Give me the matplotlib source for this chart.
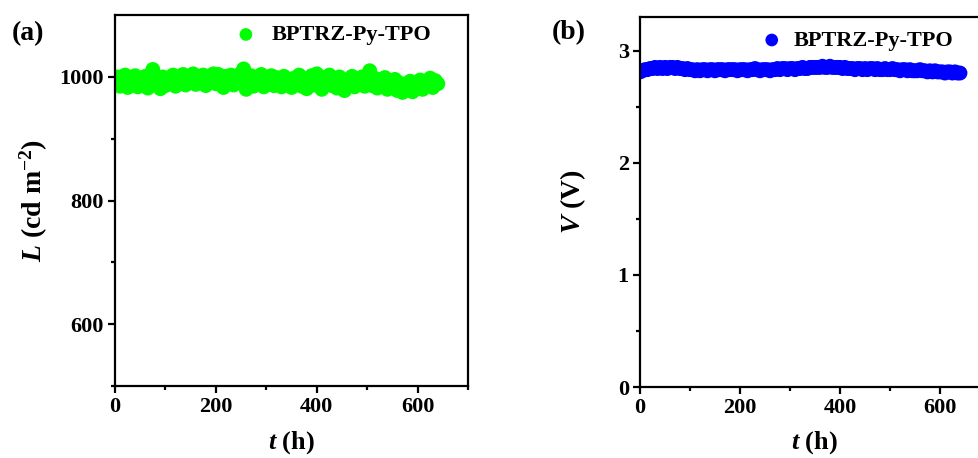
import numpy as np
import matplotlib.pyplot as plt

plt.rcParams['font.family'] = ['Liberation Serif', 'DejaVu Serif']
plt.rcParams['font.weight'] = 'bold'
plt.rcParams['axes.labelweight'] = 'bold'
plt.rcParams['mathtext.fontset'] = 'custom'
plt.rcParams['mathtext.rm'] = 'Liberation Serif:bold'
plt.rcParams['mathtext.it'] = 'Liberation Serif:bold:italic'
plt.rcParams['mathtext.bf'] = 'Liberation Serif:bold'

# data: t sampled every 5 h
t = np.arange(0, 645, 5)
L = [990, 1000, 985, 995, 1003, 983, 997, 988, 1002, 984,
     996, 987, 1001, 982, 1004, 1012, 990, 998, 981, 1000,
     986, 997, 990, 1003, 985, 999, 993, 1004, 987, 998,
     991, 1005, 988, 1000, 994, 1003, 986, 1001, 992, 1005,
     989, 1004, 995, 983, 1001, 990, 1003, 987, 999, 992,
     1006, 1013, 980, 996, 1002, 985, 998, 991, 1004, 984,
     997, 989, 1002, 986, 999, 992, 984, 1001, 988, 996,
     983, 998, 990, 1003, 985, 997, 981, 994, 1002, 987,
     1005, 990, 980, 999, 988, 1003, 986, 996, 982, 1000,
     991, 978, 995, 987, 1001, 984, 997, 989, 1000, 985,
     993, 1010, 986, 998, 982, 995, 988, 999, 980, 992,
     985, 996, 978, 990, 975, 988, 981, 993, 976, 986,
     984, 995, 980, 991, 987, 998, 983, 994, 989]
V = [2.81, 2.82, 2.83, 2.83, 2.84, 2.84, 2.85, 2.84, 2.85, 2.84,
     2.85, 2.84, 2.85, 2.85, 2.84, 2.85, 2.84, 2.84, 2.83, 2.84,
     2.83, 2.83, 2.82, 2.83, 2.82, 2.83, 2.83, 2.82, 2.83, 2.83,
     2.82, 2.83, 2.83, 2.83, 2.82, 2.83, 2.83, 2.83, 2.83, 2.82,
     2.83, 2.83, 2.83, 2.82, 2.83, 2.83, 2.84, 2.83, 2.82, 2.83,
     2.83, 2.83, 2.82, 2.83, 2.83, 2.84, 2.83, 2.84, 2.84, 2.83,
     2.84, 2.84, 2.83, 2.84, 2.84, 2.85, 2.84, 2.84, 2.85, 2.85,
     2.85, 2.85, 2.85, 2.86, 2.85, 2.85, 2.86, 2.85, 2.85, 2.85,
     2.85, 2.84, 2.85, 2.84, 2.84, 2.84, 2.83, 2.84, 2.84, 2.83,
     2.84, 2.83, 2.84, 2.84, 2.83, 2.84, 2.83, 2.83, 2.84, 2.83,
     2.83, 2.84, 2.83, 2.83, 2.82, 2.83, 2.83, 2.82, 2.83, 2.82,
     2.82, 2.82, 2.83, 2.82, 2.82, 2.81, 2.82, 2.81, 2.82, 2.81,
     2.81, 2.81, 2.80, 2.81, 2.81, 2.80, 2.81, 2.80, 2.80]
name = 'BPTRZ-Py-TPO'

fig = plt.figure(figsize=(9.79, 4.58), dpi=100)
ax1 = fig.add_axes([0.1175, 0.157, 0.3606, 0.810])
ax2 = fig.add_axes([0.6537, 0.155, 0.3575, 0.808])


def style(ax):
    for s in ax.spines.values():
        s.set_linewidth(1.6)
    ax.tick_params(which='major', direction='out', length=5, width=1.6,
                   labelsize=16, pad=3, top=False, right=False)
    ax.tick_params(which='minor', direction='out', length=3, width=1.6,
                   top=False, right=False)
    ax.set_xlim(0, 700)
    ax.set_xticks([0, 200, 400, 600])
    ax.set_xticks([100, 300, 500, 700], minor=True)
    ax.set_xlabel(r'$t$ (h)', fontsize=19)
    ax.xaxis.set_label_coords(0.5, -0.115)


ax1.scatter(t, L, s=115, color='#00ff00', edgecolors='none', label=name)
style(ax1)
ax1.set_ylim(500, 1100)
ax1.set_yticks([600, 800, 1000])
ax1.set_yticks([500, 700, 900], minor=True)
ax1.set_ylabel(r'$L$ (cd m$^{-2}$)', fontsize=20)
ax1.yaxis.set_label_coords(-0.185, 0.5)
ax1.legend(loc='upper left', bbox_to_anchor=(0.27, 1.01), frameon=False,
           fontsize=16, handletextpad=0.15, borderaxespad=0.2, markerscale=0.85)
fig.text(0.012, 0.926, '(a)', fontsize=20, fontweight='bold', va='center')

ax2.scatter(t, V, s=115, color='#0000ff', edgecolors='none', label=name)
style(ax2)
ax2.set_ylim(0, 3.3)
ax2.set_yticks([0, 1, 2, 3])
ax2.set_yticks([0.5, 1.5, 2.5], minor=True)
ax2.set_ylabel(r'$V$ (V)', fontsize=20)
ax2.yaxis.set_label_coords(-0.149, 0.5)
ax2.legend(loc='upper left', bbox_to_anchor=(0.275, 1.0), frameon=False,
           fontsize=16, handletextpad=0.0, borderaxespad=0.2, markerscale=0.85)
fig.text(0.564, 0.928, '(b)', fontsize=20, fontweight='bold', va='center')

fig.savefig('out.png', dpi=100)
